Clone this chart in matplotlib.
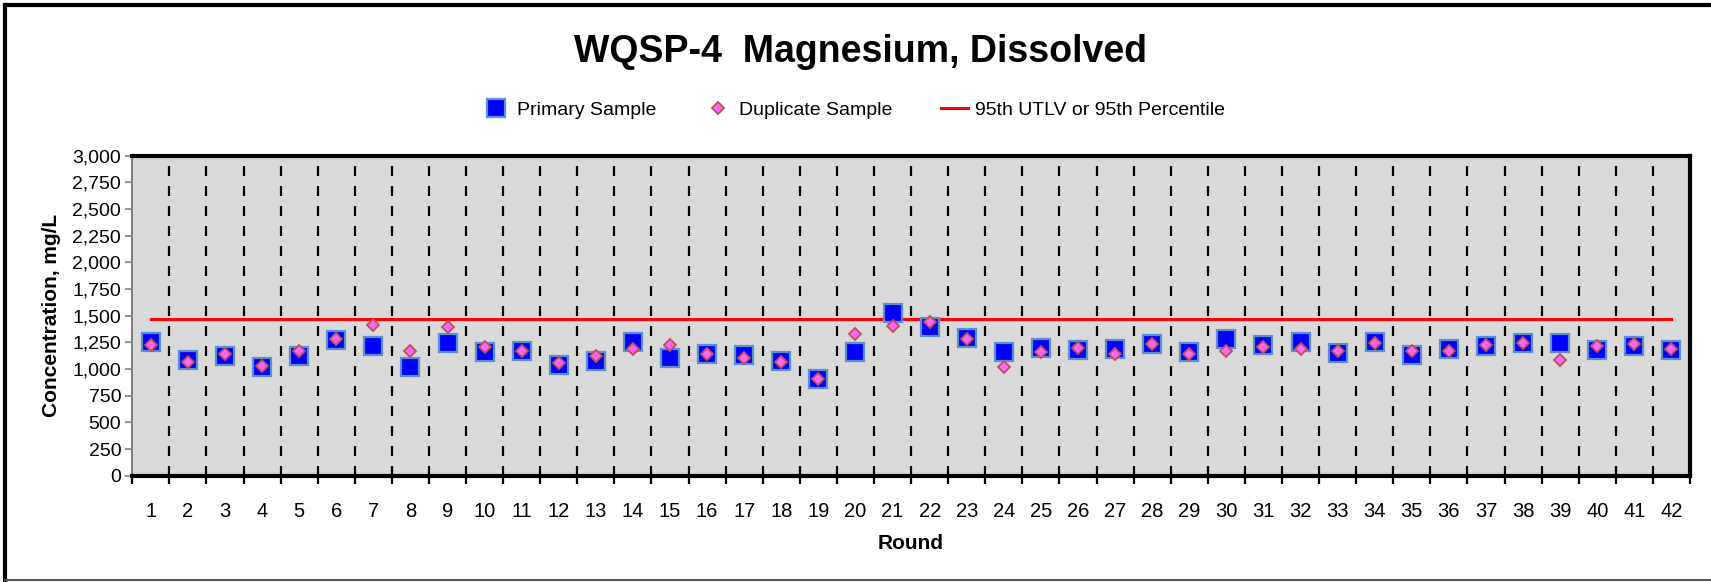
import matplotlib
matplotlib.use("Agg")
import matplotlib.pyplot as plt
from matplotlib.lines import Line2D
from matplotlib.ticker import FuncFormatter, FixedLocator
import numpy as np

rounds = list(range(1, 43))
primary = [1256, 1085, 1122, 1022, 1122, 1272, 1219, 1022, 1241, 1163,
           1172, 1038, 1078, 1253, 1100, 1144, 1131, 1078, 909, 1163,
           1528, 1391, 1288, 1163, 1194, 1178, 1185, 1238, 1163, 1281,
           1228, 1250, 1153, 1250, 1131, 1185, 1219, 1244, 1241, 1178,
           1219, 1178]
duplicate = [1225, 1069, 1138, 1028, 1169, 1278, 1413, 1169, 1391, 1203,
             1169, 1053, 1122, 1191, 1225, 1138, 1106, 1063, 903, 1331,
             1403, 1444, 1278, 1016, 1160, 1200, 1138, 1235, 1138, 1169,
             1203, 1191, 1169, 1247, 1169, 1172, 1225, 1247, 1085, 1219,
             1235, 1185]
utlv = 1470
yticks = list(range(0, 3001, 250))

FONT = ["Liberation Sans Narrow", "Liberation Sans", "DejaVu Sans"]
plt.rcParams["font.family"] = FONT

fig = plt.figure(figsize=(17.11, 5.82), dpi=100)
ax = fig.add_axes([0.0773, 0.1826, 0.9104, 0.5499])
ax.set_facecolor("#d9d9d9")

# category separators
for b in np.arange(1.5, 42, 1.0):
    ax.axvline(b, color="black", lw=1.6, ls=(0, (4.5, 4.5)), zorder=1)

ax.plot(rounds, [utlv] * len(rounds), color="#ff0000", lw=2.2, zorder=2,
        label="95th UTLV or 95th Percentile")
ax.plot(rounds, primary, ls="none", marker="s", ms=12.5, mfc="#0000ff",
        mec="#5b8fd0", mew=1.6, zorder=3, label="Primary Sample")
ax.plot(rounds, duplicate, ls="none", marker="D", ms=6.5, mfc="#ff66ff",
        mec="#c0504d", mew=1.3, zorder=4, label="Duplicate Sample")

ax.set_xlim(0.5, 42.5)
ax.set_ylim(0, 3000)
ax.set_yticks(yticks)
ax.yaxis.set_major_formatter(FuncFormatter(lambda v, p: f"{int(v):,}"))
ax.set_xticks(rounds)
ax.set_xticklabels([str(r) for r in rounds])
ax.xaxis.set_minor_locator(FixedLocator(np.arange(0.5, 43, 1.0)))
ax.tick_params(axis="x", which="major", length=0, pad=19, labelsize=14.5)
ax.tick_params(axis="x", which="minor", length=6, width=1.6, color="black",
               direction="out")
ax.tick_params(axis="y", length=5, width=1.2, color="#808080",
               direction="out", labelsize=14, pad=3)

for side in ["top", "right", "bottom"]:
    ax.spines[side].set_color("black")
    ax.spines[side].set_linewidth(3)
ax.spines["left"].set_color("#808080")
ax.spines["left"].set_linewidth(1.5)

ax.set_xlabel("Round", fontsize=15, fontweight="bold", labelpad=9)
ax.set_ylabel("Concentration, mg/L", fontsize=15, fontweight="bold", labelpad=8)

fig.text(0.503, 0.91, "WQSP-4  Magnesium, Dissolved", ha="center",
         va="center", fontsize=27, fontweight="bold")

h, l = ax.get_legend_handles_labels()
order = [1, 2, 0]
fig.legend([h[i] for i in order], [l[i] for i in order], loc="center",
           bbox_to_anchor=(0.499, 0.811), ncol=3, frameon=False, fontsize=14,
           handlelength=1.4, handletextpad=0.35, columnspacing=2.5,
           numpoints=1)

# outer frame
fig.add_artist(Line2D([0.003, 1.0], [0.991, 0.991], transform=fig.transFigure,
                      color="black", lw=3))
fig.add_artist(Line2D([0.003, 0.003], [0.003, 0.991], transform=fig.transFigure,
                      color="black", lw=3))
fig.add_artist(Line2D([0.003, 1.0], [0.004, 0.004], transform=fig.transFigure,
                      color="#555555", lw=1.5))

fig.savefig("out.png", dpi=100)
